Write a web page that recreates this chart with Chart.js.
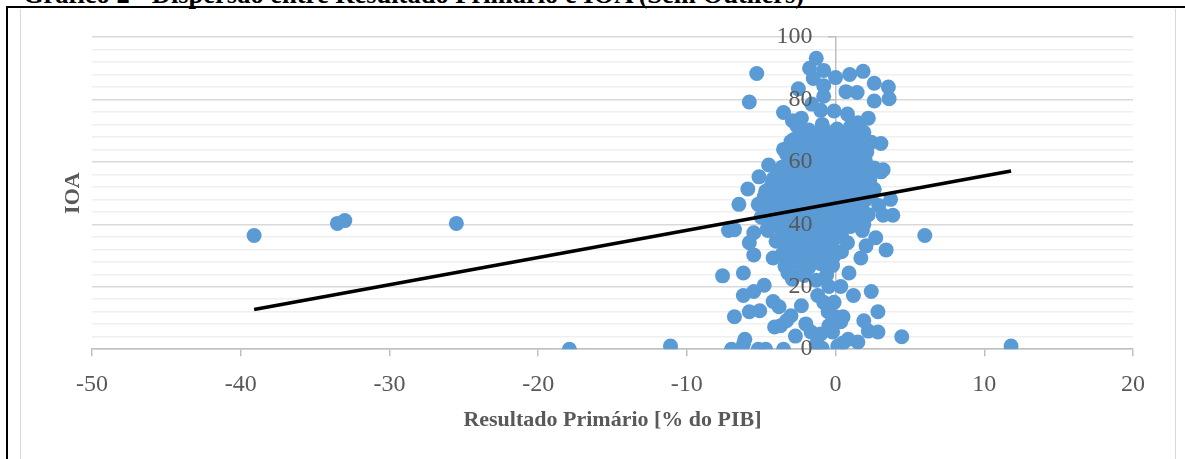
<!DOCTYPE html>
<html>
<head>
<meta charset="utf-8">
<script src="https://cdn.jsdelivr.net/npm/chart.js@4.4.1/dist/chart.umd.min.js"></script>
<style>
  html, body { margin: 0; padding: 0; background: #fff; }
  body { width: 1185px; height: 459px; position: relative; overflow: hidden; font-family: "Liberation Serif", "Times New Roman", serif; }
  #titulo { position: absolute; left: 23px; top: -19px; font-weight: bold; font-size: 26.5px; line-height: 26.5px; color: #000; white-space: nowrap; }
  #borda-topo { position: absolute; left: 6px; top: 6px; width: 1179px; height: 2px; background: #000; }
  #borda-esq { position: absolute; left: 6px; top: 6px; width: 2px; height: 453px; background: #000; }
  #area { position: absolute; left: 20px; top: 9px; width: 1154px; height: 460px; border-left: 1.5px solid #d9d9d9; border-right: 1.5px solid #d9d9d9; }
  #grafico { position: absolute; left: 1px; top: 0; }
</style>
</head>
<body>
<div id="titulo">Gráfico 2 - Dispersão entre Resultado Primário e IOA (Sem Outliers)</div>
<div id="borda-topo"></div>
<div id="borda-esq"></div>
<div id="area"><canvas id="grafico" width="1153" height="450"></canvas></div>
<script>
// Resultado primário [% do PIB] x IOA
const pontosExtremos = [
  [-39.1, 36.4], [-33.5, 40.3], [-33.0, 41.2], [-25.5, 40.3], [-17.9, 0], [-11.1, 1.0],
  [11.8, 1.0], [6.0, 36.4], [4.45, 4.0]
];

const pontosTopo = [
  [-1.3, 93.2], [-1.75, 90.0], [-0.8, 89.3], [-1.5, 86.7], [-5.3, 88.3], [-5.8, 79.2],
  [0.0, 87.0], [0.95, 88.0], [1.85, 89.0], [2.6, 85.2], [3.55, 84.0], [3.6, 80.2],
  [2.6, 79.5], [0.7, 82.5], [1.45, 82.2], [-0.8, 84.4], [-0.8, 81.0], [-2.5, 83.4],
  [-3.5, 75.8], [-2.3, 74.0], [-0.1, 76.3], [0.8, 75.3], [2.2, 74.0], [-1.6, 78.5],
  [-1.0, 76.5], [-2.9, 73.2], [1.5, 72.5]
];

const pontosBordas = [
  [-2.8, 67.2], [-3.5, 64.0], [-4.5, 59.0], [-5.15, 55.2], [-5.9, 51.3], [-6.5, 46.4],
  [3.05, 65.9], [3.05, 56.8], [3.2, 57.5], [2.25, 51.3], [3.7, 48.0], [1.7, 53.5],
  [-7.2, 38.0], [-6.8, 38.3], [-5.8, 34.1], [-5.5, 30.2], [-4.2, 29.2], [-5.5, 37.3],
  [-4.55, 38.0], [1.9, 40.0], [3.2, 42.9], [3.85, 42.9], [2.7, 35.7], [2.05, 33.1],
  [3.4, 31.8], [1.7, 29.2], [0.9, 24.4], [-0.3, 33.1], [-0.1, 29.9], [-0.8, 31.8],
  [-1.45, 29.2], [-2.3, 29.9], [-3.2, 27.6], [-2.3, 24.4], [-3.2, 24.4], [-6.2, 24.4],
  [0.36, 38.0], [1.2, 41.6], [-7.6, 23.5]
];

const pontosNucleo = [
  [-2.6, 71.5], [-1.8, 70.2], [-0.9, 72.0], [0.1, 70.5], [1.0, 71.2], [1.9, 69.5],
  [-3.0, 66.5], [-2.2, 67.8], [-1.4, 66.2], [-0.5, 67.5], [0.4, 66.8], [1.2, 67.9], [2.4, 66.3],
  [-3.3, 62.5], [-2.5, 63.8], [-1.7, 62.2], [-0.9, 63.9], [-0.1, 62.8], [0.7, 63.5], [1.5, 62.1], [2.1, 63.2],
  [-3.6, 58.3], [-2.8, 59.6], [-2.0, 58.1], [-1.2, 59.8], [-0.4, 58.5], [0.3, 60.1], [1.1, 58.4], [1.8, 59.2], [2.6, 58.0],
  [-4.2, 54.5], [-3.4, 55.8], [-2.6, 54.2], [-1.8, 55.6], [-1.0, 54.1], [-0.2, 55.9], [0.6, 54.4], [1.4, 55.3], [2.3, 54.0],
  [-4.7, 50.6], [-3.9, 51.8], [-3.1, 50.2], [-2.3, 51.5], [-1.5, 50.1], [-0.7, 51.9], [0.1, 50.4], [0.9, 51.6], [1.7, 50.3], [2.6, 51.2],
  [-5.2, 46.4], [-4.4, 47.7], [-3.6, 46.1], [-2.8, 47.6], [-2.0, 46.3], [-1.2, 47.9], [-0.4, 46.5], [0.4, 47.4], [1.2, 46.2], [2.0, 47.8], [2.9, 46.0],
  [-5.0, 42.3], [-4.2, 43.6], [-3.4, 42.1], [-2.6, 43.9], [-1.8, 42.4], [-1.0, 43.2], [-0.2, 42.0], [0.6, 43.7], [1.4, 42.5], [2.2, 43.1],
  [-4.6, 38.5], [-3.8, 39.8], [-3.0, 38.2], [-2.2, 39.5], [-1.4, 38.1], [-0.6, 39.9], [0.2, 38.6], [1.0, 39.3], [1.8, 38.0],
  [-4.0, 34.6], [-3.2, 35.8], [-2.4, 34.2], [-1.6, 35.5], [-0.8, 34.3], [0.0, 35.6], [0.8, 34.1],
  [-3.6, 30.4], [-2.8, 31.7], [-2.0, 30.2], [-1.2, 31.5], [-0.4, 30.6], [0.4, 31.2],
  [-3.4, 26.5], [-2.6, 27.8], [-1.8, 26.2], [-1.0, 27.4], [-0.2, 26.8],
  [-2.9, 22.4], [-2.1, 23.6], [-1.3, 22.1], [-0.6, 23.8]
];

const pontosNucleoExtra = [
  [-2.2, 69.0], [-1.3, 68.8], [-0.4, 69.3], [0.6, 69.0], [1.5, 69.4],
  [-2.6, 65.0], [-1.8, 64.8], [-1.0, 65.2], [-0.2, 65.0], [0.8, 65.3], [1.7, 65.0],
  [-3.0, 60.8], [-2.3, 61.0], [-1.5, 60.8], [-0.6, 61.2], [0.2, 60.8], [1.0, 61.0], [2.0, 60.5],
  [-3.8, 57.0], [-3.0, 57.0], [-2.2, 57.2], [-1.4, 57.0], [-0.6, 57.2], [0.2, 57.0], [1.0, 57.2], [1.9, 56.8],
  [-4.3, 52.8], [-3.5, 53.0], [-2.7, 52.8], [-1.9, 53.0], [-1.1, 52.8], [-0.3, 53.2], [0.5, 52.8], [1.3, 53.0], [2.1, 52.6],
  [-4.8, 48.8], [-4.0, 49.0], [-3.2, 48.8], [-2.4, 49.2], [-1.6, 48.8], [-0.8, 49.0], [0.0, 48.8], [0.8, 49.2], [1.6, 48.6], [2.4, 49.0],
  [-4.6, 44.8], [-3.8, 45.0], [-3.0, 44.8], [-2.2, 45.2], [-1.4, 44.8], [-0.6, 45.0], [0.2, 44.6], [1.0, 45.0], [1.8, 44.8],
  [-4.2, 40.8], [-3.4, 41.0], [-2.6, 40.6], [-1.8, 41.0], [-1.0, 40.8], [-0.2, 40.6], [0.6, 41.0], [1.4, 40.5],
  [-3.6, 36.8], [-2.8, 37.0], [-2.0, 36.6], [-1.2, 37.0], [-0.4, 36.8], [0.4, 36.5],
  [-3.2, 33.0], [-2.4, 32.8], [-1.6, 33.0], [-0.8, 33.2],
  [-2.8, 29.0], [-2.0, 28.8], [-1.2, 29.0], [-0.6, 28.6]
];

const pontosBase = [
  [-6.2, 17.2], [-5.5, 18.5], [-4.8, 20.5], [-4.2, 15.3], [-6.8, 10.4], [-5.8, 12.0],
  [-5.1, 12.3], [-3.8, 13.6], [-3.0, 10.7], [-2.3, 13.9], [-3.3, 9.1], [-4.1, 7.1],
  [-3.7, 7.5], [-2.0, 8.1], [-1.2, 17.2], [-0.45, 20.1], [0.35, 20.1], [1.2, 17.2],
  [2.4, 18.5], [2.85, 12.0], [1.9, 9.1], [2.2, 5.8], [2.85, 5.5], [0.85, 3.2],
  [1.5, 2.3], [0.15, 1.0], [-1.0, 4.9], [-1.3, 1.6], [-1.1, 0], [-2.7, 4.2],
  [-3.5, 0], [-4.7, 0], [-5.2, 0], [-6.1, 3.2], [-6.2, 1.6], [-7.0, 0],
  [-0.45, 7.5], [0.0, 10.4], [0.5, 10.4], [-0.5, 12.0], [-0.8, 15.0], [-0.1, 15.0],
  [0.35, 8.8], [-0.2, 5.5], [-1.65, 5.5], [-0.9, 0.3], [0.5, 2.0]
];

// linha de tendência (extremos)
const tendenciaX = [-39.1, 11.8];
const tendenciaY = [12.7, 57.1];

const todos = [].concat(pontosExtremos, pontosTopo, pontosBordas, pontosNucleo, pontosNucleoExtra, pontosBase);

const fonte = '"Liberation Serif", "Times New Roman", serif';
const cinzaTexto = '#595959';

// títulos dos eixos
const titulosEixos = {
  id: 'titulosEixos',
  afterDraw(chart) {
    const { ctx, chartArea } = chart;
    ctx.save();
    ctx.font = 'bold 22px ' + fonte;
    ctx.fillStyle = cinzaTexto;
    ctx.textAlign = 'center';
    ctx.textBaseline = 'middle';
    ctx.fillText('Resultado Primário [% do PIB]', (chartArea.left + chartArea.right) / 2, chartArea.bottom + 71);
    ctx.translate(51, (chartArea.top + chartArea.bottom) / 2);
    ctx.rotate(-Math.PI / 2);
    ctx.fillText('IOA', 0, 0);
    ctx.restore();
  }
};

new Chart(document.getElementById('grafico'), {
  type: 'scatter',
  data: {
    datasets: [
      {
        type: 'line',
        data: tendenciaX.map((x, i) => ({ x: x, y: tendenciaY[i] })),
        borderColor: '#000',
        borderWidth: 3.5,
        pointRadius: 0,
        fill: false,
        order: 0
      },
      {
        data: todos.map(p => ({ x: p[0], y: p[1] })),
        backgroundColor: '#5b9bd5',
        borderWidth: 0,
        pointRadius: 7.5,
        order: 1
      }
    ]
  },
  options: {
    responsive: false,
    animation: false,
    layout: { padding: { left: 70, right: 42, top: 28, bottom: 46 } },
    plugins: { legend: { display: false }, tooltip: { enabled: false } },
    scales: {
      x: {
        type: 'linear',
        position: 'bottom',
        min: -50,
        max: 20,
        ticks: { stepSize: 10, color: cinzaTexto, font: { family: fonte, size: 24 }, padding: 14 },
        grid: { drawOnChartArea: false, tickLength: 7, color: '#bfbfbf', lineWidth: 1.5 },
        border: { color: '#bfbfbf', width: 1.5 }
      },
      y: {
        type: 'linear',
        position: { x: 0 },
        min: 0,
        max: 100,
        ticks: { stepSize: 4, display: false, autoSkip: false },
        grid: {
          color: c => c.tick && c.tick.value % 20 === 0 ? '#d9d9d9' : '#efefef',
          lineWidth: 1.5,
          tickLength: 7,
          tickColor: c => c.tick && c.tick.value % 20 === 0 ? '#bfbfbf' : 'rgba(0,0,0,0)'
        },
        border: { color: '#bfbfbf', width: 1.5 }
      },
      // rótulos do eixo vertical, desenhados por cima dos pontos
      y2: {
        type: 'linear',
        position: { x: -1.55 },
        min: 0,
        max: 100,
        ticks: { stepSize: 20, color: cinzaTexto, font: { family: fonte, size: 24 }, padding: 0, z: 1 },
        grid: { display: false, drawTicks: false },
        border: { display: false }
      }
    }
  },
  plugins: [titulosEixos]
});
</script>
</body>
</html>
